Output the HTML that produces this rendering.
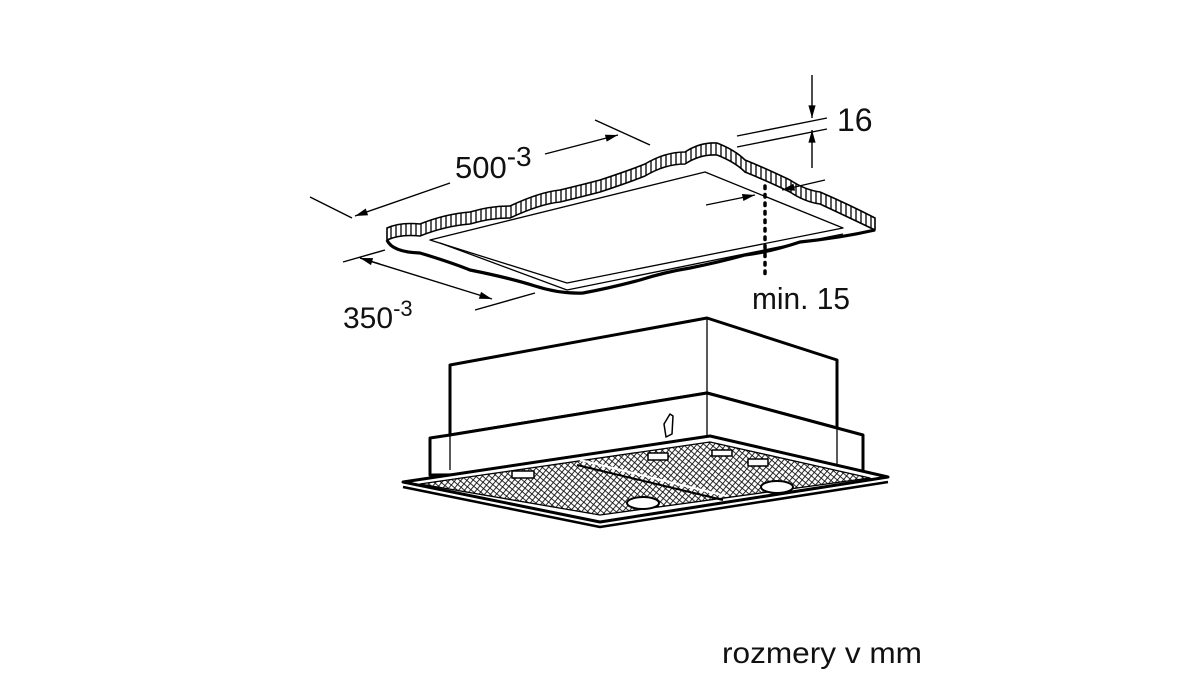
<!DOCTYPE html>
<html><head><meta charset="utf-8"><style>
html,body{margin:0;padding:0;background:#fff;}
svg{display:block}
text{font-family:"Liberation Sans",Arial,sans-serif;fill:#111}
</style></head><body>
<svg width="1200" height="674" viewBox="0 0 1200 674" xmlns="http://www.w3.org/2000/svg">
<defs>
<pattern id="vh" width="5" height="12" patternUnits="userSpaceOnUse">
<rect width="5" height="12" fill="#fff"/><line x1="1" y1="0" x2="1" y2="12" stroke="#000" stroke-width="1.3"/></pattern>
<pattern id="mesh" width="4.5" height="4.5" patternUnits="userSpaceOnUse" patternTransform="rotate(40)">
<rect width="4.5" height="4.5" fill="#fff"/><path d="M0 0H4.5M0 0V4.5" stroke="#111" stroke-width="1.8"/></pattern>
<marker id="ar" viewBox="0 0 14 10" refX="14" refY="5" markerWidth="16" markerHeight="9" markerUnits="userSpaceOnUse" orient="auto"><path d="M0 1L14 5L0 9z" fill="#000"/></marker>
</defs>
<!-- ceiling panel -->
<g stroke="#000" fill="none" stroke-linejoin="round">
<path d="M387 228 Q400 222 420 224 Q445 214 470 212 Q490 206 510 206 Q540 192 560 190 Q585 184 600 180 Q630 170 645 164 Q665 152 685 152 Q700 142 717 143 Q735 150 745 160 Q765 168 790 180 Q805 190 820 192 Q850 205 875 218 L875 230 Q850 218 820 204 Q805 202 790 192 Q765 180 745 172 Q735 162 717 155 Q700 154 685 164 Q665 164 645 176 Q630 182 600 192 Q585 196 560 202 Q540 204 510 218 Q490 218 470 224 Q445 226 420 236 Q400 234 387 240 Z" fill="url(#vh)" stroke-width="1.6"/>
<path d="M387 240 Q392 252 420 253 Q450 262 470 270 Q510 278 535 286 Q560 294 583 293 Q610 288 640 280 Q665 272 690 268 Q720 262 745 255 Q770 252 800 242 Q840 238 875 230" stroke-width="3.2"/>
<path d="M430 240 L705 172 L843 228 L567 283 Z" stroke-width="1.3"/>
<path d="M440 243 L567 290 L843 234" stroke-width="1.3"/>
</g>
<!-- dimensions -->
<g stroke="#000" stroke-width="1.4" fill="none">
<line x1="310" y1="197" x2="352" y2="218"/>
<line x1="595" y1="120" x2="650" y2="145"/>
<line x1="450" y1="183" x2="355" y2="216" marker-end="url(#ar)"/>
<line x1="545" y1="154" x2="618" y2="135" marker-end="url(#ar)"/>
<line x1="343" y1="262" x2="385" y2="250"/>
<line x1="475" y1="310" x2="535" y2="293"/>
<line x1="380" y1="264" x2="360" y2="258" marker-end="url(#ar)"/>
<line x1="360" y1="258" x2="492" y2="299" marker-end="url(#ar)"/>
<line x1="737" y1="136" x2="827" y2="118"/>
<line x1="737" y1="147" x2="827" y2="129"/>
<line x1="812" y1="75" x2="812" y2="118" marker-end="url(#ar)"/>
<line x1="812" y1="168" x2="812" y2="130" marker-end="url(#ar)"/>
<line x1="706" y1="205" x2="755" y2="195" marker-end="url(#ar)"/>
<line x1="825" y1="180" x2="782" y2="190" marker-end="url(#ar)"/>
<line x1="765" y1="186" x2="765" y2="275" stroke-width="3.5" stroke-dasharray="2.5 6" stroke-linecap="round"/>
</g>
<text x="455" y="178" font-size="31">500<tspan font-size="28" dy="-12">-3</tspan></text>
<text x="343" y="328" font-size="30">350<tspan font-size="22" dy="-12">-3</tspan></text>
<text x="837" y="131" font-size="32">16</text>
<text x="752" y="309" font-size="31" textLength="98" lengthAdjust="spacingAndGlyphs">min. 15</text>
<!-- hood -->
<g stroke="#000" stroke-linejoin="round">
<path d="M450 365 L707 318 L837 360 L837 428 L707 393 L450 435 Z" fill="#fff" stroke-width="3"/>
<line x1="707" y1="318" x2="707" y2="393" stroke-width="1.3"/>
<path d="M430 438 L450 435 L707 393 L837 428 L863 435 L863 473 L430 475 Z" fill="#fff" stroke-width="3"/>
<line x1="707" y1="393" x2="707" y2="436" stroke-width="1.3"/>
<line x1="450" y1="435" x2="450" y2="470" stroke-width="1.3"/>
<line x1="837" y1="428" x2="837" y2="470" stroke-width="1.3"/>
<path d="M403 482 L710 436 L888 477 L600 522 Z" fill="#fff" stroke-width="3"/>
<path d="M403 487 L600 527 L888 482" fill="none" stroke-width="2.5"/>
<path d="M420 484 L710 442 L870 478 L600 515 Z" fill="url(#mesh)" stroke-width="1.3"/>
<line x1="577" y1="465" x2="723" y2="500" stroke-width="2"/>
<line x1="580" y1="460" x2="726" y2="496" stroke="#fff" stroke-width="2"/>
<ellipse cx="643" cy="503" rx="16" ry="6" fill="#fff" stroke-width="2"/>
<ellipse cx="777" cy="487" rx="16" ry="6" fill="#fff" stroke-width="2"/>
<rect x="512" y="471" width="22" height="7" fill="#fff" stroke-width="1.5"/>
<rect x="648" y="453" width="20" height="7" fill="#fff" stroke-width="1.5"/>
<rect x="712" y="450" width="20" height="6" fill="#fff" stroke-width="1.5"/>
<rect x="748" y="459" width="20" height="7" fill="#fff" stroke-width="1.5"/>
<path d="M664 424 L670 414 L673 416 L672 434 L666 437 Z" fill="#fff" stroke-width="1.5"/>
</g>
<text x="722" y="663" font-size="30" textLength="200" lengthAdjust="spacingAndGlyphs">rozmery v mm</text>
</svg>
</body></html>
